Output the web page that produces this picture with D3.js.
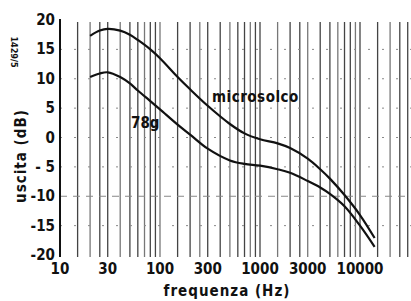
<!DOCTYPE html>
<html>
<head>
<meta charset="utf-8" />
<title>uscita / frequenza</title>
<style>
html, body {
  margin: 0;
  background: #fff;
}
text {
  font-family: "Liberation Sans Narrow", "DejaVu Sans Condensed", sans-serif;
  font-weight: bold;
  fill: #111;
}
</style>
</head>
<body>
<svg id="svg" width="411" height="301"></svg>
<script src="https://d3js.org/d3.v7.min.js"></script>
<script>
// values
const freqs = [20, 25, 30, 40, 50, 60, 80, 100, 150, 200, 300, 500, 700, 1000, 1500, 2000, 3000, 4000, 5000, 7000, 10000, 14000]
const microsolco = [17.3, 18.2, 18.5, 18.2, 17.5, 16.6, 15.0, 13.5, 10.3, 8.2, 5.4, 2.3, 0.7, -0.3, -1.0, -1.8, -3.6, -5.4, -7.0, -9.8, -13.2, -17.1]
const g78 = [10.3, 10.9, 11.1, 10.3, 9.2, 8.0, 6.2, 4.8, 2.2, 0.5, -1.9, -3.9, -4.5, -4.8, -5.4, -6.0, -7.4, -8.5, -9.6, -11.7, -15.0, -18.6]

const xTicks = [10, 30, 100, 300, 1000, 3000, 10000]
const yTicks = [20, 15, 10, 5, 0, -5, -10, -15, -20]
// log paper lines per decade
const gridMult = [1, 1.5, 2, 2.5, 3, 4, 5, 6, 7, 8, 9]

const svg = d3.select('#svg')

const x = d3.scaleLog().domain([10, 10000]).range([60, 360])
const y = d3.scaleLinear().domain([-20, 20]).range([255, 20])

// vertical grid
let gridF = []
for (let d = 10; d <= 10000; d *= 10) {
  gridMult.forEach(m => gridF.push(d * m))
}
gridF = gridF.filter(f => f > 10 && f <= 30000)

svg.append('g')
  .selectAll('line')
  .data(gridF)
  .enter().append('line')
  .attr('x1', d => x(d)).attr('x2', d => x(d))
  .attr('y1', y(20) + 2).attr('y2', y(-20) + 2)
  .attr('stroke', (d, i) => i % 3 === 1 ? '#777' : '#444')
  .attr('stroke-width', 1.3)

// horizontal dashed grid
svg.append('g')
  .selectAll('line')
  .data(yTicks.filter(v => v > -20 && v < 20))
  .enter().append('line')
  .attr('x1', 60).attr('x2', 411)
  .attr('y1', d => y(d)).attr('y2', d => y(d))
  .attr('stroke', '#888')
  .attr('stroke-width', 1)
  .attr('stroke-dasharray', d => d === -10 ? '7,6' : '2,12')

// y axis line
svg.append('line')
  .attr('x1', 60).attr('x2', 60)
  .attr('y1', y(20) - 1).attr('y2', y(-20) + 2)
  .attr('stroke', '#111')
  .attr('stroke-width', 2)

// curves
const line = d3.line()
  .x((d, i) => x(freqs[i]))
  .y(d => y(d))
  .curve(d3.curveCatmullRom)

;[microsolco, g78].forEach(s => {
  svg.append('path')
    .datum(s)
    .attr('d', line)
    .attr('fill', 'none')
    .attr('stroke', '#111')
    .attr('stroke-width', 2.2)
})

// y tick labels
svg.append('g')
  .selectAll('text')
  .data(yTicks)
  .enter().append('text')
  .attr('x', 55)
  .attr('y', d => y(d) + 5)
  .attr('text-anchor', 'end')
  .style('font-size', '15px')
  .text(d => d === -5 ? '- 5' : d)

// x tick labels
svg.append('g')
  .selectAll('text')
  .data(xTicks)
  .enter().append('text')
  .attr('x', d => x(d))
  .attr('y', 274)
  .attr('text-anchor', 'middle')
  .style('font-size', '15px')
  .text(d => d)

// axis titles
svg.append('text')
  .attr('x', 227).attr('y', 296)
  .attr('text-anchor', 'middle')
  .style('font-size', '15px')
  .style('letter-spacing', '1px')
  .text('frequenza (Hz)')

svg.append('text')
  .attr('transform', 'translate(26,156) rotate(-90)')
  .attr('text-anchor', 'middle')
  .style('font-size', '15px')
  .style('letter-spacing', '1px')
  .text('uscita (dB)')

svg.append('text')
  .attr('transform', 'translate(11,52) rotate(90)')
  .attr('text-anchor', 'middle')
  .style('font-size', '9px')
  .text('1429/5')

// curve labels
svg.append('text')
  .attr('x', 212).attr('y', 102)
  .style('font-size', '15px')
  .style('letter-spacing', '0.5px')
  .text('microsolco')

svg.append('text')
  .attr('x', 131).attr('y', 128)
  .style('font-size', '15px')
  .text('78g')
</script>
</body>
</html>
